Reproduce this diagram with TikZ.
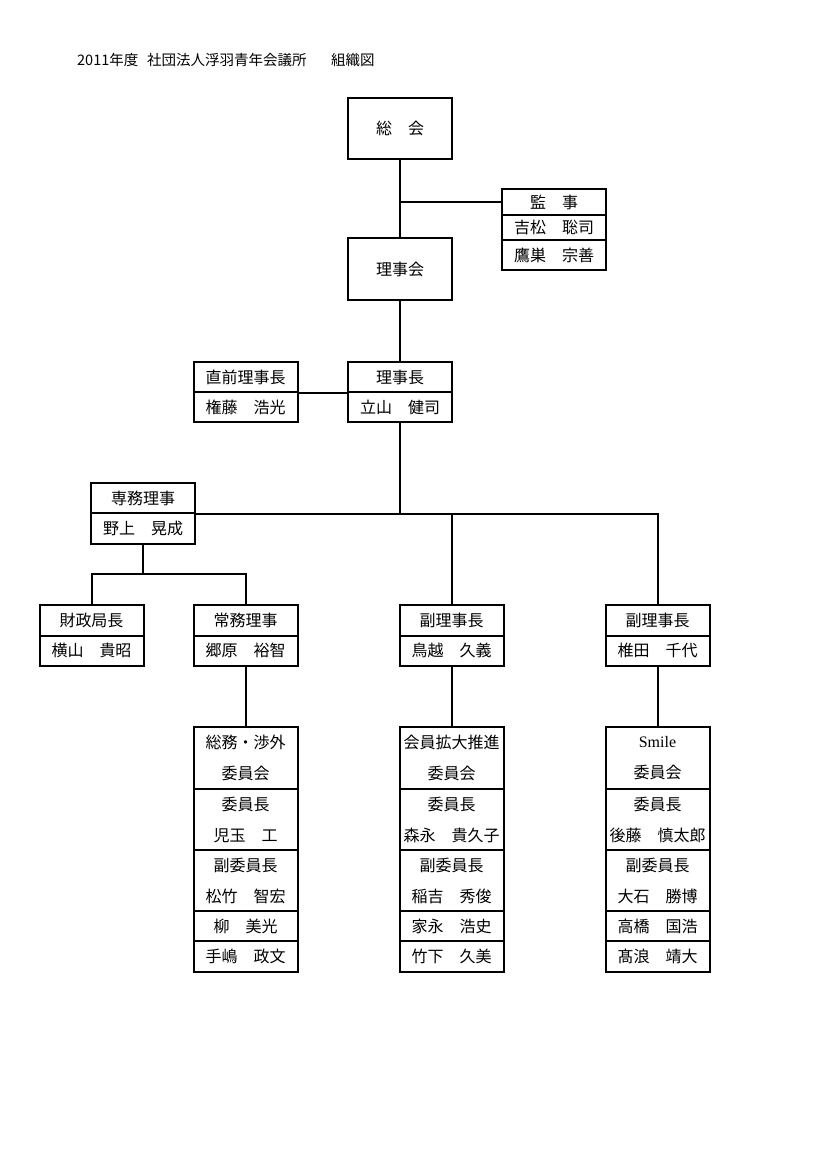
\documentclass[tikz,border=0pt]{standalone}
\usepackage{fontspec}
\newfontfamily\jp{Noto Sans CJK JP}
\newfontfamily\lat{Liberation Serif}
\begin{document}
\begin{tikzpicture}[x=1pt,y=-1pt,
  box/.style={draw, line width=2pt, minimum width=104pt, inner sep=0pt, align=center,
    font=\jp\fontsize{16}{31}\selectfont},
  conn/.style={line width=2pt, line cap=rect}]
\useasboundingbox (0,0) rectangle (826,1168);
\node[anchor=west, inner sep=0pt, font=\jp\fontsize{14.5}{16}\selectfont] (title) at (77,60) {2011年度\hspace{0.6em}社団法人浮羽青年会議所\hspace{1.7em}組織図};
% top
\node[box, minimum height=61pt] (sokai) at (400,128.5) {総　会};
\node[box, minimum height=26pt] (kan1) at (554,202) {監　事};
\node[box, minimum height=25pt] (kan2) at (554,227.5) {吉松　聡司};
\node[box, minimum height=30pt] (kan3) at (554,255) {鷹巣　宗善};
\node[box, minimum height=62pt] (rijikai) at (400,269) {理事会};
% chairman row
\node[box, minimum height=30pt] (ch1) at (245.5,377) {直前理事長};
\node[box, minimum height=30pt] (ch2) at (245.5,407) {権藤　浩光};
\node[box, minimum height=30pt] (rc1) at (400,377) {理事長};
\node[box, minimum height=30pt] (rc2) at (400,407) {立山　健司};
% senmu
\node[box, minimum height=30pt] (sm1) at (143,498) {専務理事};
\node[box, minimum height=31pt] (sm2) at (143,528.5) {野上　晃成};
% row of officers
\node[box, minimum height=31pt] (zs1) at (91.5,620) {財政局長};
\node[box, minimum height=30pt] (zs2) at (91.5,650.5) {横山　貴昭};
\node[box, minimum height=31pt] (jm1) at (245.5,620) {常務理事};
\node[box, minimum height=30pt] (jm2) at (245.5,650.5) {郷原　裕智};
\node[box, minimum height=31pt] (fk1) at (451.5,620) {副理事長};
\node[box, minimum height=30pt] (fk2) at (451.5,650.5) {鳥越　久義};
\node[box, minimum height=31pt] (fr1) at (657.5,620) {副理事長};
\node[box, minimum height=30pt] (fr2) at (657.5,650.5) {椎田　千代};
% committees
\node[box, minimum height=62pt] (c1a) at (245.5,758) {総務・渉外\\委員会};
\node[box, minimum height=61pt] (c1b) at (245.5,819.5) {委員長\\児玉　工};
\node[box, minimum height=61pt] (c1c) at (245.5,880.5) {副委員長\\松竹　智宏};
\node[box, minimum height=30pt] (c1d) at (245.5,926) {柳　美光};
\node[box, minimum height=31pt] (c1e) at (245.5,956.5) {手嶋　政文};
\node[box, minimum height=62pt] (c2a) at (451.5,758) {会員拡大推進\\委員会};
\node[box, minimum height=61pt] (c2b) at (451.5,819.5) {委員長\\森永　貴久子};
\node[box, minimum height=61pt] (c2c) at (451.5,880.5) {副委員長\\稲吉　秀俊};
\node[box, minimum height=30pt] (c2d) at (451.5,926) {家永　浩史};
\node[box, minimum height=31pt] (c2e) at (451.5,956.5) {竹下　久美};
\node[box, minimum height=62pt] (c3a) at (657.5,758) {{\lat Smile}\\委員会};
\node[box, minimum height=61pt] (c3b) at (657.5,819.5) {委員長\\後藤　慎太郎};
\node[box, minimum height=61pt] (c3c) at (657.5,880.5) {副委員長\\大石　勝博};
\node[box, minimum height=30pt] (c3d) at (657.5,926) {高橋　国浩};
\node[box, minimum height=31pt] (c3e) at (657.5,956.5) {髙浪　靖大};
% connectors
\draw[conn] (sokai.south) -- (rijikai.north);
\draw[conn] (kan1.west) -- (kan1.west -| sokai.south);
\draw[conn] (rijikai.south) -- (rc1.north);
\draw[conn] (ch1.south east) -- (rc1.south west);
\coordinate (hub) at (rc2.south |- sm1.south east);
\draw[conn] (rc2.south) -- (hub);
\draw[conn] (sm1.south east) -- (sm1.south east -| fr1.north) -- (fr1.north);
\draw[conn] (fk1.north |- hub) -- (fk1.north);
\coordinate (split) at (143,574);
\draw[conn] (sm2.south) -- (split);
\draw[conn] (zs1.north) -- (zs1.north |- split) -- (jm1.north |- split) -- (jm1.north);
\draw[conn] (jm2.south) -- (c1a.north);
\draw[conn] (fk2.south) -- (c2a.north);
\draw[conn] (fr2.south) -- (c3a.north);
\end{tikzpicture}
\end{document}
